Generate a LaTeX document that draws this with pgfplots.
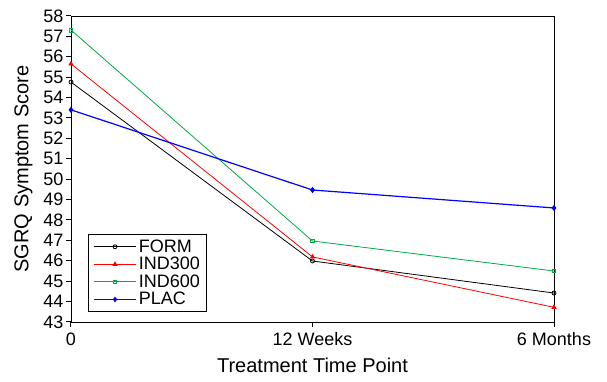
\documentclass[border=0pt]{standalone}
\usepackage{pgfplots}
\pgfplotsset{compat=1.18}
\usepackage{fontspec}
\setmainfont{Liberation Sans}
\definecolor{cform}{RGB}{0,0,0}
\definecolor{cind3}{RGB}{255,0,0}
\definecolor{cind6}{RGB}{0,170,70}
\definecolor{cplac}{RGB}{0,0,255}
\begin{document}
\begin{tikzpicture}
\path[use as bounding box] (-71pt,-60pt) rectangle (536pt,322pt);
\begin{axis}[
  at={(0,0)}, anchor=south west,
  scale only axis, width=483pt, height=306pt,
  xmin=0, xmax=2, ymin=43, ymax=58,
  xtick={0,1,2}, xticklabels={0,12 Weeks,6 Months},
  ytick={43,44,...,58},
  tick align=outside, xtick pos=bottom, ytick pos=left,
  major tick length=5pt,
  tick style={black, line width=1pt},
  axis line style={line width=0.9pt},
  /pgf/number format/assume math mode=true,
  tick label style={font=\fontsize{18}{20}\selectfont},
  yticklabel style={xshift=1pt},
  xticklabel style={yshift=-2pt},
  label style={font=\fontsize{20}{22}\selectfont},
  xlabel={Treatment Time Point},
  ylabel={SGRQ Symptom Score},
  xlabel style={yshift=-5pt},
  ylabel style={yshift=4pt},
  legend style={at={(0.035,0.033)}, anchor=south west, font=\fontsize{18}{20}\selectfont, draw=black, line width=0.8pt, row sep=-0.5pt, inner xsep=5pt, inner ysep=3pt},
  legend cell align=left,
  legend image code/.code={\draw[mark repeat=2,mark phase=2,#1] plot coordinates {(0cm,0cm) (0.75cm,0cm) (1.5cm,0cm)};},
  legend image post style={line width=0.8pt},
]
\addplot[cform, line width=0.8pt, mark=o, mark size=2pt, mark options={line width=0.8pt}] coordinates {(0,54.76) (1,45.99) (2,44.42)};
\addlegendentry{FORM}
\addplot[cind3, line width=0.8pt, mark=triangle*, mark size=2.3pt] coordinates {(0,55.65) (1,46.19) (2,43.72)};
\addlegendentry{IND300}
\addplot[cind6, line width=0.8pt, mark=square, mark size=1.8pt, mark options={line width=0.7pt}] coordinates {(0,57.31) (1,46.97) (2,45.50)};
\addlegendentry{IND600}
\addplot[cplac, line width=1.2pt, mark=diamond*, mark size=2.2pt] coordinates {(0,53.40) (1,49.47) (2,48.59)};
\addlegendentry{PLAC}
\end{axis}
\end{tikzpicture}
\end{document}
